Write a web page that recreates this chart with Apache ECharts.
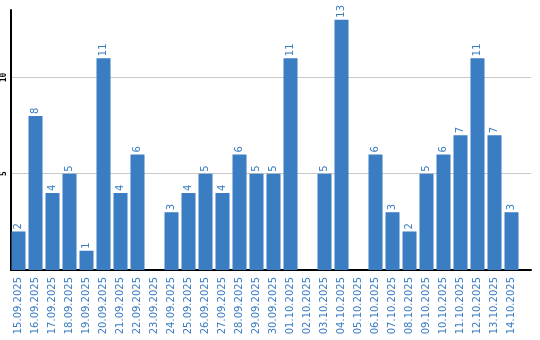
<!DOCTYPE html>
<html><head><meta charset="utf-8">
<script src="https://cdn.jsdelivr.net/npm/echarts@6/dist/echarts.min.js"></script>
<style>html,body{margin:0;padding:0;background:#fff}#c{width:540px;height:340px}</style>
</head><body><div id="c"></div>
<script>
const categories = ["15.09.2025","16.09.2025","17.09.2025","18.09.2025","19.09.2025","20.09.2025","21.09.2025","22.09.2025","23.09.2025","24.09.2025","25.09.2025","26.09.2025","27.09.2025","28.09.2025","29.09.2025","30.09.2025","01.10.2025","02.10.2025","03.10.2025","04.10.2025","05.10.2025","06.10.2025","07.10.2025","08.10.2025","09.10.2025","10.10.2025","11.10.2025","12.10.2025","13.10.2025","14.10.2025"];
const values = [2,8,4,5,1,11,4,6,0,3,4,5,4,6,5,5,11,0,5,13,0,6,3,2,5,6,7,11,7,3];
const yTicks = [5,10];
const yMax = 13.5;

const chart = echarts.init(document.getElementById('c'), null, {renderer:'canvas'});
chart.setOption({
  animation:false,
  grid:[
    {left:10,right:9,top:10,bottom:70,containLabel:false},
    {left:10,right:20,top:10,bottom:70,containLabel:false}
  ],
  xAxis:[
    {gridIndex:0,type:'value',min:0,max:1,
      axisLine:{show:true,onZero:false,lineStyle:{color:'#000',width:2}},
      axisTick:{show:false},axisLabel:{show:false},splitLine:{show:false}},
    {gridIndex:1,type:'category',data:categories,
      axisLine:{show:false},
      axisTick:{show:false},
      axisLabel:{rotate:90,interval:0,color:'#3a7cc2',fontFamily:'DejaVu Sans',fontSize:10,margin:7}}
  ],
  yAxis:[
    {gridIndex:0,type:'value',min:0,max:yMax,interval:5,
      axisLine:{show:true,lineStyle:{color:'#000',width:2}},
      axisTick:{show:false},
      splitLine:{show:true,showMinLine:false,showMaxLine:false,lineStyle:{color:'#c8c8c8',width:1}},
      axisLabel:{rotate:90,margin:3,color:'#000',fontFamily:'DejaVu Sans Mono',fontWeight:'bold',fontSize:8,
        showMinLabel:false,showMaxLabel:false,
        formatter:v=> yTicks.indexOf(v)>=0 ? String(v) : ''}},
    {gridIndex:1,type:'value',min:0,max:yMax,show:false,splitLine:{show:false}}
  ],
  series:[{
    type:'bar',xAxisIndex:1,yAxisIndex:1,
    data:values.map(v=>v===0?null:v),
    barWidth:14,
    itemStyle:{color:'#3b7dc3'},
    label:{show:true,position:'top',rotate:90,align:'left',verticalAlign:'middle',distance:2,
      color:'#3a7cc2',fontFamily:'DejaVu Sans',fontSize:10}
  }]
});
</script></body></html>
